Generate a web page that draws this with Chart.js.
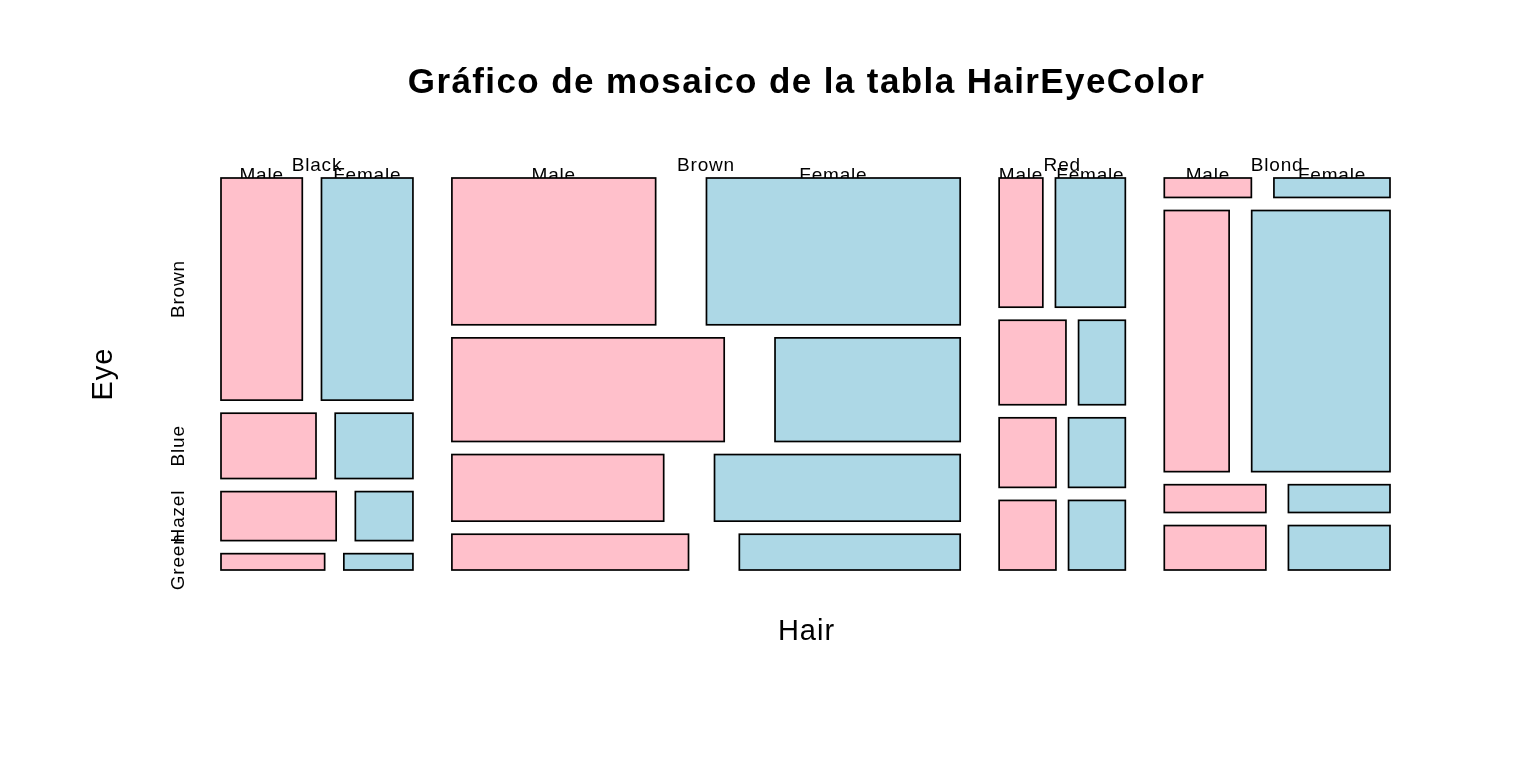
<!DOCTYPE html>
<html>
<head>
<meta charset="utf-8">
<script src="https://cdn.jsdelivr.net/npm/chart.js@4"></script>
<style>
  body { margin: 0; background: #fff; }
  #wrap { width: 1536px; height: 768px; }
</style>
</head>
<body>
<div id="wrap"><canvas id="mosaic"></canvas></div>
<script>
// Datos de HairEyeColor (Hair x Eye x Sex)
const hairLevels = ['Black', 'Brown', 'Red', 'Blond'];
const eyeLevels = ['Brown', 'Blue', 'Hazel', 'Green'];
const sexLevels = ['Male', 'Female'];
// conteos por cabello, en el orden de eyeLevels
const maleCounts = [
    [32, 11, 10, 3],
    [53, 50, 25, 15],
    [10, 10, 7, 7],
    [3, 30, 5, 8]
];
const femaleCounts = [
    [36, 9, 5, 2],
    [66, 34, 29, 14],
    [16, 7, 7, 7],
    [4, 64, 5, 8]
];
const sexColors = ['#FFC0CB', '#ADD8E6'];

const off = 0.1; // espacio entre celdas (10%)

// Divide un intervalo segun los conteos, dejando huecos como mosaicplot
function split(start, extent, counts) {
    const total = counts.reduce((a, b) => a + b, 0);
    const avail = extent * (1 - off);
    const gap = counts.length > 1 ? extent * off / (counts.length - 1) : 0;
    let pos = start;
    return counts.map(c => {
        const w = avail * c / total;
        const seg = [pos, pos + w];
        pos += w + gap;
        return seg;
    });
}

// Construir celdas en unidades de datos (0..1)
const hairTotals = hairLevels.map((h, i) =>
    maleCounts[i].reduce((a, b) => a + b, 0) + femaleCounts[i].reduce((a, b) => a + b, 0));
const hairSegs = split(0, 1, hairTotals);
const cells = [];
hairLevels.forEach((h, i) => {
    const eyeTotals = eyeLevels.map((e, j) => maleCounts[i][j] + femaleCounts[i][j]);
    const eyeSegs = split(0, 1, eyeTotals);
    eyeLevels.forEach((e, j) => {
        const [x0, x1] = hairSegs[i];
        const sexSegs = split(x0, x1 - x0, [maleCounts[i][j], femaleCounts[i][j]]);
        sexSegs.forEach((s, k) => {
            cells.push({ hair: i, eye: j, sex: k, x0: s[0], x1: s[1], y0: eyeSegs[j][0], y1: eyeSegs[j][1] });
        });
    });
});

const mosaicPlugin = {
    id: 'mosaic',
    afterDatasetsDraw(chart) {
        const ctx = chart.ctx;
        const xs = chart.scales.x, ys = chart.scales.y;
        const area = chart.chartArea;
        ctx.save();
        ctx.fillStyle = '#000';

        // Titulo
        ctx.font = 'bold 35px "Liberation Sans", Arial, sans-serif';
        ctx.letterSpacing = '1.4px';
        ctx.textAlign = 'center';
        ctx.textBaseline = 'alphabetic';
        ctx.fillText('Gráfico de mosaico de la tabla HairEyeColor', (area.left + area.right) / 2 + 1, 93);

        // Titulos de ejes
        ctx.font = '29px "Liberation Sans", Arial, sans-serif';
        ctx.letterSpacing = '1px';
        ctx.fillText('Hair', (area.left + area.right) / 2 + 1, 640);
        ctx.save();
        ctx.translate(112, (area.top + area.bottom) / 2);
        ctx.rotate(-Math.PI / 2);
        ctx.fillText('Eye', 0, 0);
        ctx.restore();

        // Etiquetas de cabello y sexo
        ctx.font = '19px "Liberation Sans", Arial, sans-serif';
        ctx.letterSpacing = '0.8px';
        hairLevels.forEach((h, i) => {
            const cx = (xs.getPixelForValue(hairSegs[i][0]) + xs.getPixelForValue(hairSegs[i][1])) / 2;
            ctx.fillText(h, cx, 171);
        });
        cells.filter(c => c.eye === 0).forEach(c => {
            const cx = (xs.getPixelForValue(c.x0) + xs.getPixelForValue(c.x1)) / 2;
            ctx.fillText(sexLevels[c.sex], cx, 181);
        });

        // Etiquetas de ojos (primera columna)
        cells.filter(c => c.hair === 0 && c.sex === 0).forEach(c => {
            const cy = (ys.getPixelForValue(c.y0) + ys.getPixelForValue(c.y1)) / 2;
            ctx.save();
            ctx.translate(184, cy);
            ctx.rotate(-Math.PI / 2);
            ctx.fillText(eyeLevels[c.eye], 0, 0);
            ctx.restore();
        });

        // Rectangulos
        ctx.lineWidth = 1.7;
        ctx.strokeStyle = '#000';
        cells.forEach(c => {
            const px0 = xs.getPixelForValue(c.x0), px1 = xs.getPixelForValue(c.x1);
            const py0 = ys.getPixelForValue(c.y0), py1 = ys.getPixelForValue(c.y1);
            ctx.fillStyle = sexColors[c.sex];
            ctx.fillRect(px0, py0, px1 - px0, py1 - py0);
            ctx.strokeRect(px0, py0, px1 - px0, py1 - py0);
        });
        ctx.restore();
    }
};

new Chart(document.getElementById('mosaic'), {
    type: 'scatter',
    data: { datasets: [{ data: [] }] },
    options: {
        responsive: true,
        maintainAspectRatio: false,
        animation: false,
        layout: { padding: { left: 221, right: 146, top: 178, bottom: 198 } },
        scales: {
            x: { min: 0, max: 1, display: false },
            y: { min: 0, max: 1, reverse: true, display: false }
        },
        plugins: {
            legend: { display: false },
            tooltip: { enabled: false }
        }
    },
    plugins: [mosaicPlugin]
});
</script>
</body>
</html>
